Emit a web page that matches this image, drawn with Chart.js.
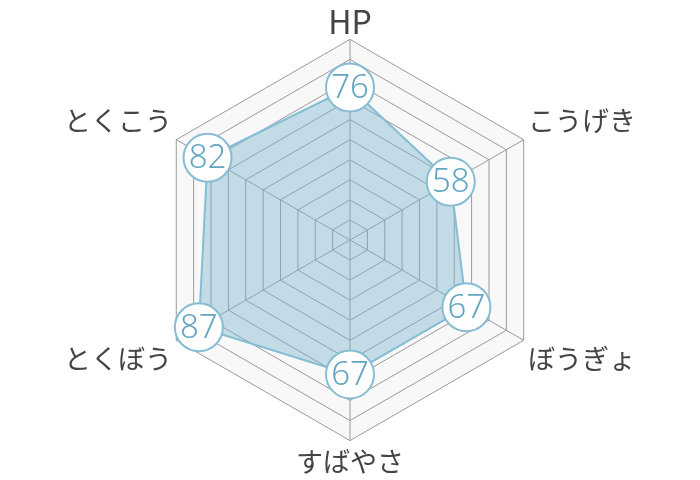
<!DOCTYPE html>
<html>
<head>
<meta charset="utf-8">
<script src="https://cdn.jsdelivr.net/npm/chart.js@4"></script>
<style>
  html, body { margin: 0; padding: 0; background: #fff; }
  #wrap { width: 700px; height: 480px; }
</style>
</head>
<body>
<div id="wrap"><canvas id="radarChart"></canvas></div>
<script>
// stats
const labels = ["HP", "こうげき", "ぼうぎょ", "すばやさ", "とくぼう", "とくこう"];
const values = [76, 58, 67, 67, 87, 82];

// draws the value inside each point circle
const valueLabels = {
    id: 'valueLabels',
    afterDatasetsDraw(chart) {
        const ctx = chart.ctx;
        const meta = chart.getDatasetMeta(0);
        ctx.save();
        ctx.fillStyle = '#64a5c3';
        ctx.font = '300 33px "Noto Sans", "Open Sans", sans-serif';
        ctx.textAlign = 'center';
        ctx.textBaseline = 'middle';
        meta.data.forEach((pt, i) => {
            ctx.fillText(values[i], pt.x, pt.y + 1);
        });
        ctx.restore();
    }
};

const ctx = document.getElementById('radarChart').getContext('2d');
const myChart = new Chart(ctx, {
    type: 'radar',
    data: {
        labels: labels,
        datasets: [{
            data: values,
            backgroundColor: 'rgba(120, 178, 205, 0.42)',
            borderColor: '#86bdd4',
            borderWidth: 2,
            pointRadius: 24,
            pointHoverRadius: 24,
            pointBackgroundColor: '#ffffff',
            pointBorderColor: '#86bdd4',
            pointBorderWidth: 2
        }]
    },
    options: {
        responsive: true,
        maintainAspectRatio: false,
        animation: false,
        layout: { padding: { top: 5, bottom: 0 } },
        plugins: {
            legend: { display: false },
            tooltip: { enabled: false }
        },
        scales: {
            r: {
                min: 0,
                max: 100,
                backgroundColor: '#f8f8f8',
                ticks: { display: false, stepSize: 10 },
                grid: { color: '#9a9a9a', lineWidth: 1 },
                angleLines: { color: '#9a9a9a', lineWidth: 1 },
                pointLabels: {
                    color: '#444444',
                    padding: (c) => (c.index === 0 ? 2 : 5),
                    // HP is latin, drawn a bit larger like the original
                    font: (c) => ({
                        family: '"Noto Sans CJK JP", "Noto Sans", sans-serif',
                        size: c.index === 0 ? 32 : 27,
                        lineHeight: c.index === 0 ? 1.0 : 1.2,
                        weight: '400'
                    })
                }
            }
        }
    },
    plugins: [valueLabels]
});
</script>
</body>
</html>
